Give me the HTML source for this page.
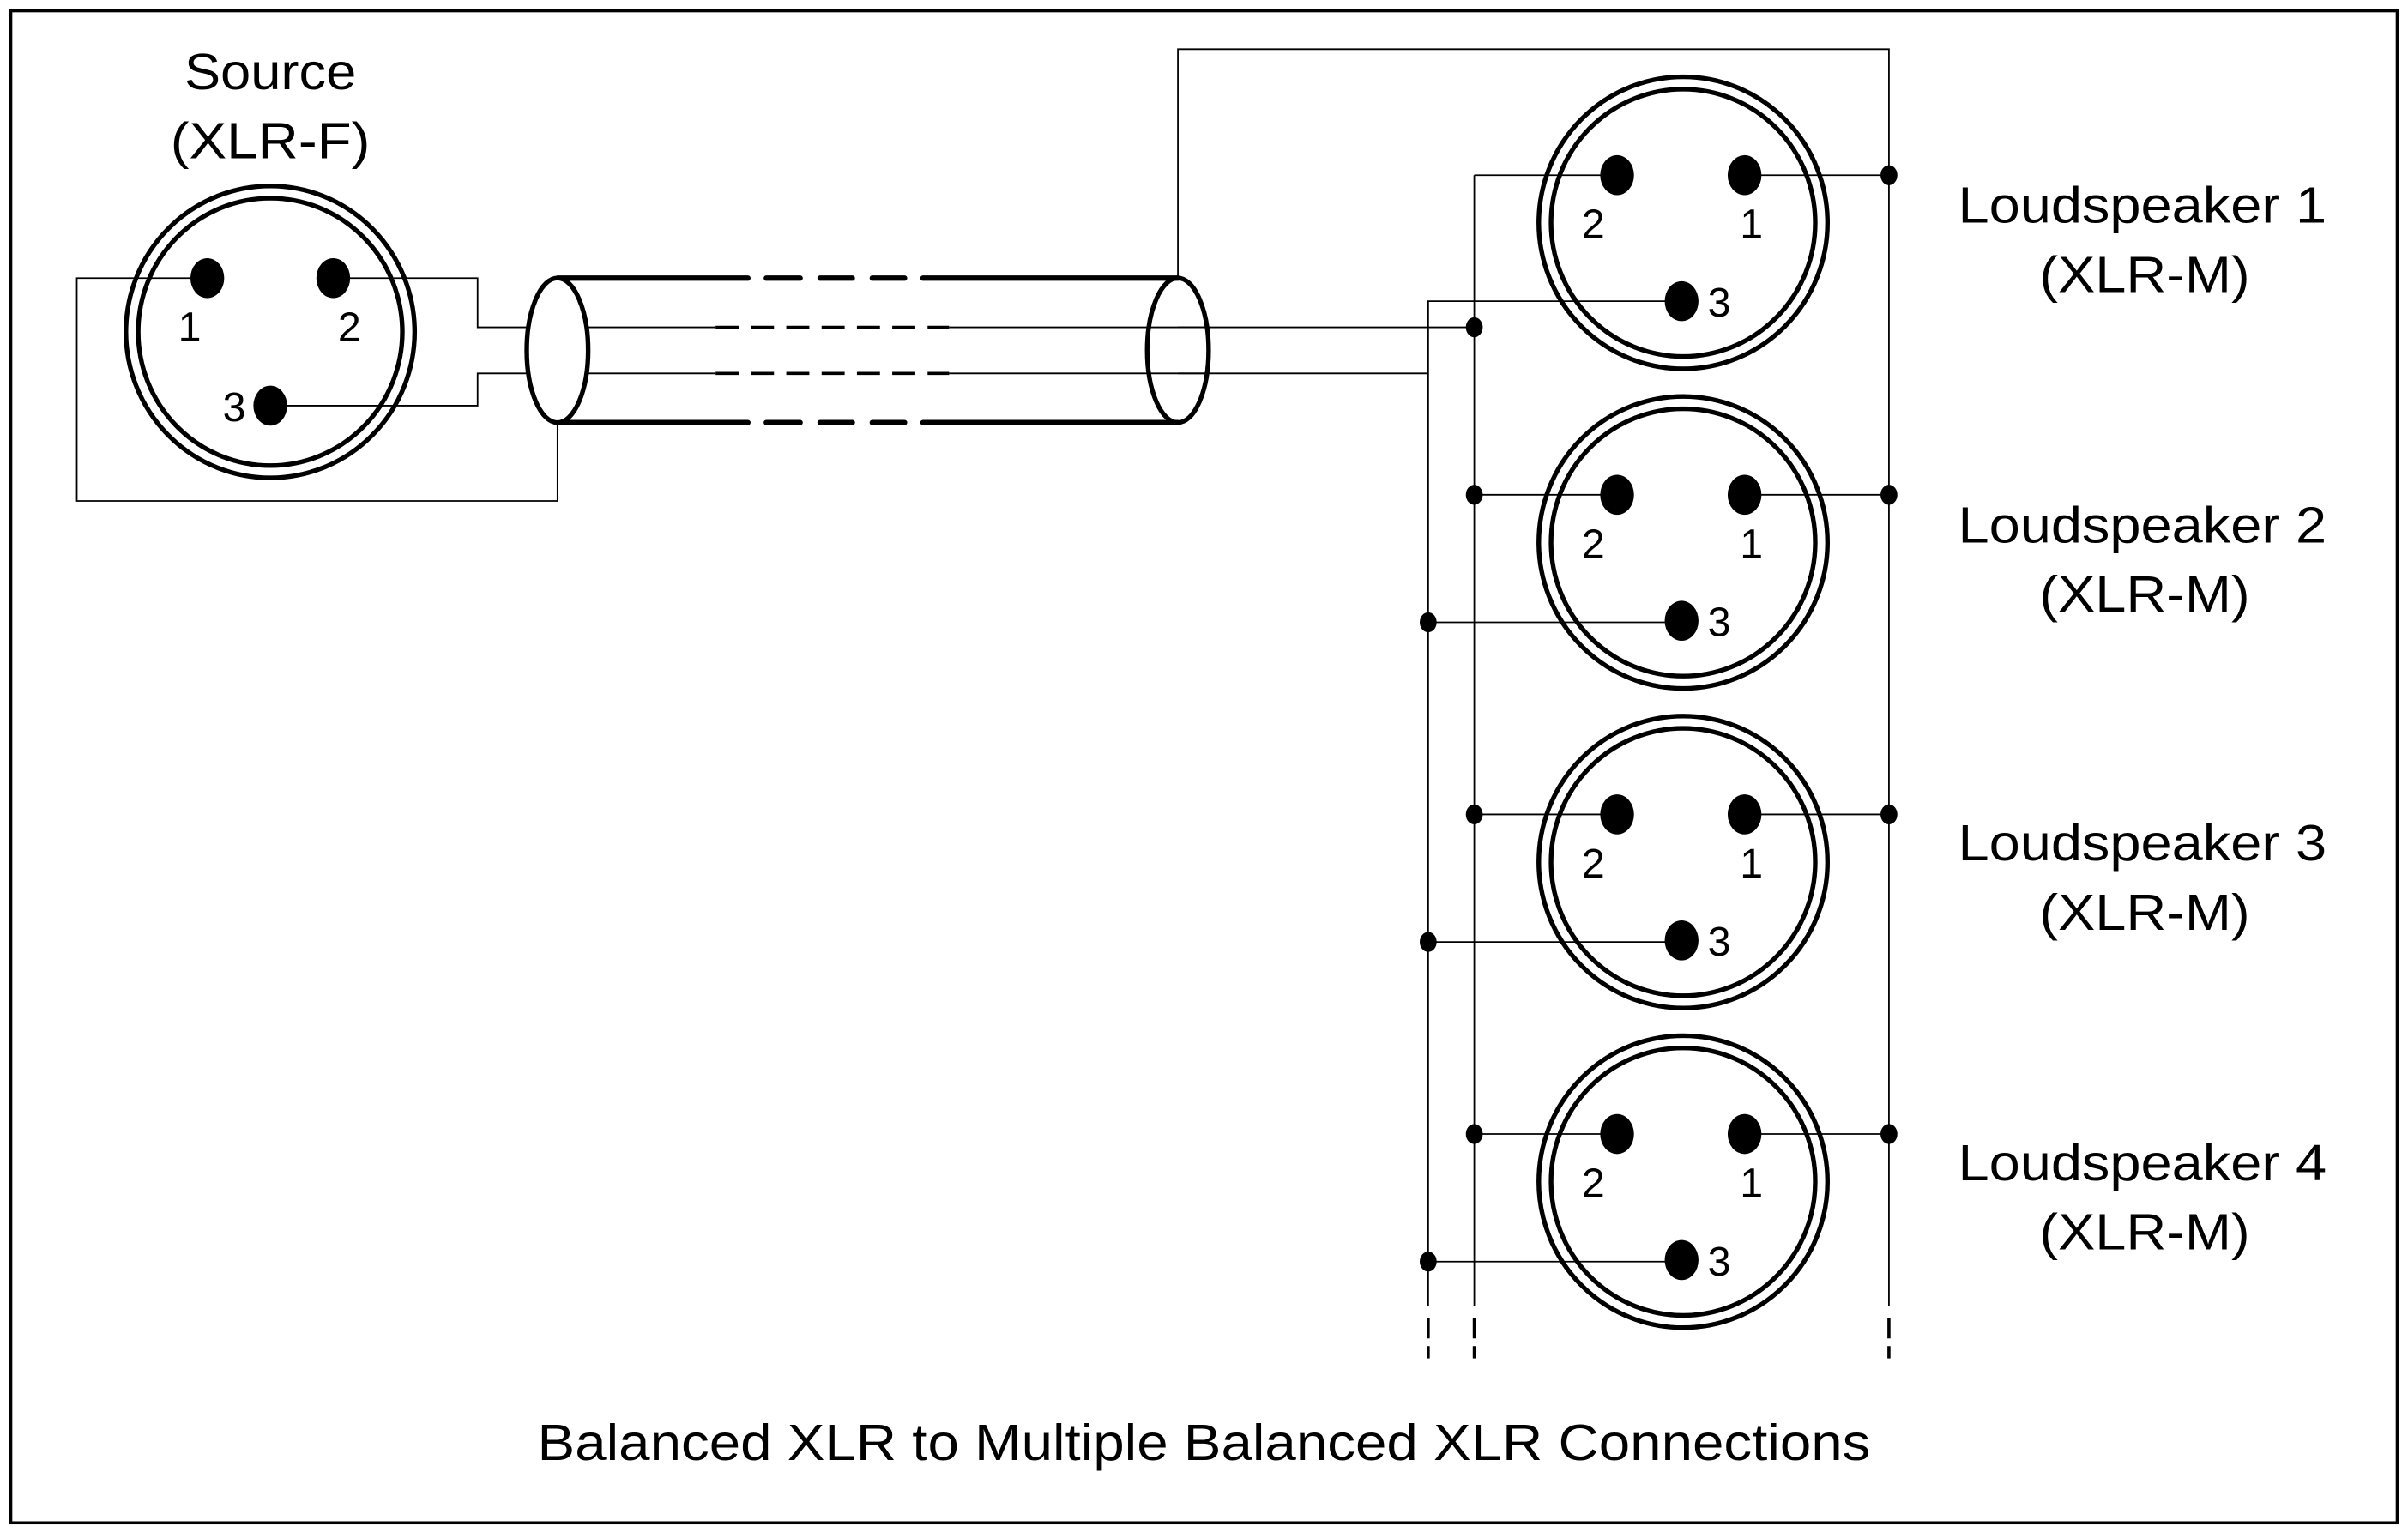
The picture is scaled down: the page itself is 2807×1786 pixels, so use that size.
<!DOCTYPE html>
<html><head><meta charset="utf-8"><style>html,body{margin:0;padding:0;background:#fff}svg{display:block}</style></head>
<body>
<svg width="2807" height="1786" viewBox="0 0 1568 997" preserveAspectRatio="none" xmlns="http://www.w3.org/2000/svg" font-family="Liberation Sans, sans-serif">
<rect x="0" y="0" width="1568" height="997" fill="#fff"/>
<rect x="7" y="7" width="1554" height="984" fill="none" stroke="#000" stroke-width="2"/>
<g fill="none" stroke="#000" stroke-width="1">
<polyline points="135,181 50,181 50,326 363,326 363,276"/>
<polyline points="217,181 311,181 311,213 466,213"/>
<polyline points="176,264 311,264 311,243 466,243"/>
<line x1="618" y1="213" x2="960" y2="213"/>
<line x1="618" y1="243" x2="930" y2="243"/>
<line x1="466" y1="213" x2="618" y2="213" stroke-width="2" stroke-dasharray="15,8"/>
<line x1="466" y1="243" x2="618" y2="243" stroke-width="2" stroke-dasharray="15,8"/>
<polyline points="767,181 767,32 1230,32 1230,850"/>
<line x1="960" y1="114" x2="960" y2="850"/>
<polyline points="1095,196 930,196 930,850"/>
</g>
<g stroke="#000" stroke-width="2">
<line x1="930" y1="858" x2="930" y2="871"/><line x1="930" y1="876" x2="930" y2="884"/>
<line x1="960" y1="858" x2="960" y2="871"/><line x1="960" y1="876" x2="960" y2="884"/>
<line x1="1230" y1="858" x2="1230" y2="871"/><line x1="1230" y1="876" x2="1230" y2="884"/>
</g>
<g stroke="#000" stroke-width="1">
<line x1="960" y1="114" x2="1053" y2="114"/>
<line x1="1136" y1="114" x2="1230" y2="114"/>
<line x1="960" y1="322" x2="1053" y2="322"/><line x1="1136" y1="322" x2="1230" y2="322"/><line x1="930" y1="405" x2="1095" y2="405"/>
<line x1="960" y1="530" x2="1053" y2="530"/><line x1="1136" y1="530" x2="1230" y2="530"/><line x1="930" y1="613" x2="1095" y2="613"/>
<line x1="960" y1="738" x2="1053" y2="738"/><line x1="1136" y1="738" x2="1230" y2="738"/><line x1="930" y1="821" x2="1095" y2="821"/>
</g>
<g fill="none" stroke="#000" stroke-width="3.5" stroke-linecap="round">
<line x1="363" y1="181" x2="487" y2="181"/><line x1="601" y1="181" x2="767" y2="181"/>
<line x1="363" y1="275" x2="487" y2="275"/><line x1="601" y1="275" x2="767" y2="275"/>
<line x1="499" y1="181" x2="521" y2="181"/><line x1="534" y1="181" x2="555" y2="181"/><line x1="568" y1="181" x2="589" y2="181"/>
<line x1="499" y1="275" x2="521" y2="275"/><line x1="534" y1="275" x2="555" y2="275"/><line x1="568" y1="275" x2="589" y2="275"/>
</g>
<g fill="none" stroke="#000" stroke-width="3">
<ellipse cx="363" cy="228" rx="20" ry="47" fill="#fff"/>
<ellipse cx="767" cy="228" rx="20" ry="47"/>
</g>
<line x1="767" y1="213" x2="787" y2="213" stroke="#000"/><line x1="767" y1="243" x2="787" y2="243" stroke="#000"/>
<g fill="none" stroke="#000" stroke-width="3">
<ellipse cx="176" cy="216" rx="94" ry="95"/>
<ellipse cx="176" cy="216" rx="86" ry="87"/>
</g>
<g fill="#000">
<ellipse cx="135" cy="181" rx="11" ry="13"/><ellipse cx="217" cy="181" rx="11" ry="13"/><ellipse cx="176" cy="264" rx="11" ry="13"/>
</g>
<g font-size="27" fill="#000">
<text x="116" y="222">1</text><text x="220" y="222">2</text><text x="145" y="274">3</text>
</g>
<g id="spk">
<g fill="none" stroke="#000" stroke-width="3">
<ellipse cx="1096" cy="145" rx="94" ry="95"/>
<ellipse cx="1096" cy="145" rx="86" ry="87"/>
</g>
<g fill="#000"><ellipse cx="1053" cy="114" rx="11" ry="13"/><ellipse cx="1136" cy="114" rx="11" ry="13"/><ellipse cx="1095" cy="196" rx="11" ry="13"/></g>
<g font-size="27" fill="#000"><text x="1030" y="155">2</text><text x="1133" y="155">1</text><text x="1112" y="206">3</text></g>
</g>
<use href="#spk" y="208"/><use href="#spk" y="416"/><use href="#spk" y="624"/>
<g fill="#000">
<ellipse cx="1230" cy="114" rx="5.5" ry="6.5"/><ellipse cx="960" cy="213" rx="5.5" ry="6.5"/>
<ellipse cx="960" cy="322" rx="5.5" ry="6.5"/><ellipse cx="1230" cy="322" rx="5.5" ry="6.5"/><ellipse cx="930" cy="405" rx="5.5" ry="6.5"/>
<ellipse cx="960" cy="530" rx="5.5" ry="6.5"/><ellipse cx="1230" cy="530" rx="5.5" ry="6.5"/><ellipse cx="930" cy="613" rx="5.5" ry="6.5"/>
<ellipse cx="960" cy="738" rx="5.5" ry="6.5"/><ellipse cx="1230" cy="738" rx="5.5" ry="6.5"/><ellipse cx="930" cy="821" rx="5.5" ry="6.5"/>
</g>
<g font-size="33" fill="#000" lengthAdjust="spacingAndGlyphs">
<text x="120" y="58" textLength="112" lengthAdjust="spacingAndGlyphs">Source</text>
<text x="111" y="103" textLength="130" lengthAdjust="spacingAndGlyphs">(XLR-F)</text>
<text x="1275" y="145" textLength="240" lengthAdjust="spacingAndGlyphs">Loudspeaker 1</text><text x="1328" y="190" textLength="137" lengthAdjust="spacingAndGlyphs">(XLR-M)</text>
<text x="1275" y="353" textLength="240" lengthAdjust="spacingAndGlyphs">Loudspeaker 2</text><text x="1328" y="398" textLength="137" lengthAdjust="spacingAndGlyphs">(XLR-M)</text>
<text x="1275" y="560" textLength="240" lengthAdjust="spacingAndGlyphs">Loudspeaker 3</text><text x="1328" y="605" textLength="137" lengthAdjust="spacingAndGlyphs">(XLR-M)</text>
<text x="1275" y="768" textLength="240" lengthAdjust="spacingAndGlyphs">Loudspeaker 4</text><text x="1328" y="813" textLength="137" lengthAdjust="spacingAndGlyphs">(XLR-M)</text>
<text x="350" y="950" textLength="868" lengthAdjust="spacingAndGlyphs">Balanced XLR to Multiple Balanced XLR Connections</text>
</g>
</svg>
</body></html>
